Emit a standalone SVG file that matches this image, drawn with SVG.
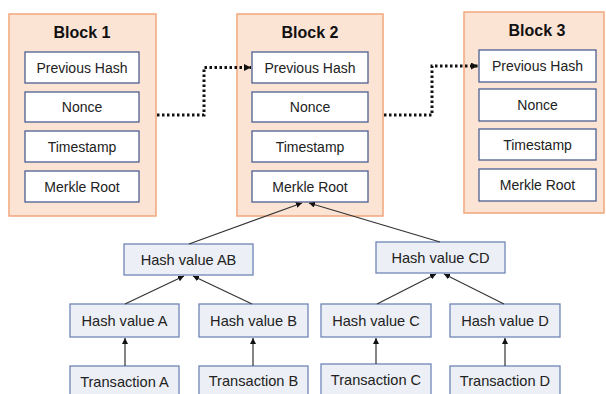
<svg xmlns="http://www.w3.org/2000/svg" width="606" height="394" viewBox="0 0 606 394">
<defs>
<style>
.blk{fill:#fce4d5;stroke:#f2a67c;stroke-width:1.5}
.fld{fill:#ffffff;stroke:#4c5f93;stroke-width:1.3}
.hb{fill:#eceff5;stroke:#6f86b6;stroke-width:1.3}
.t{font-family:"Liberation Sans",Arial,sans-serif;font-size:14px;fill:#222;text-anchor:middle}
.tl{font-family:"Liberation Sans",Arial,sans-serif;font-size:14.6px;fill:#222;text-anchor:middle}
.title{font-family:"Liberation Sans",Arial,sans-serif;font-size:16px;font-weight:bold;fill:#111;text-anchor:middle}
.dot{fill:none;stroke:#111;stroke-width:3;stroke-dasharray:2.5 2.5}
.ln{fill:none;stroke:#333;stroke-width:1.2}
</style>
<marker id="ad" viewBox="0 0 10 10" refX="10" refY="5" markerWidth="7" markerHeight="7" markerUnits="userSpaceOnUse" orient="auto"><path d="M0,0 L10,5 L0,10 z" fill="#111"/></marker>
<marker id="as" viewBox="0 0 10 10" refX="10" refY="5" markerWidth="6" markerHeight="6" markerUnits="userSpaceOnUse" orient="auto"><path d="M0,0 L10,5 L0,10 z" fill="#111"/></marker>
</defs>
<rect width="606" height="394" fill="#ffffff"/>

<g id="block1">
<rect class="blk" x="9" y="14" width="147" height="202"/>
<text class="title" x="82" y="38">Block 1</text>
<rect class="fld" x="25" y="52" width="114" height="31"/><text class="t" x="82" y="72.5">Previous Hash</text>
<rect class="fld" x="25" y="92" width="114" height="30"/><text class="t" x="82" y="112">Nonce</text>
<rect class="fld" x="25" y="131" width="114" height="31"/><text class="t" x="82" y="151.5">Timestamp</text>
<rect class="fld" x="25" y="171" width="114" height="31"/><text class="t" x="82" y="191.5">Merkle Root</text>
</g>

<g id="block2">
<rect class="blk" x="237" y="14" width="146" height="202"/>
<text class="title" x="310" y="38">Block 2</text>
<rect class="fld" x="252" y="52" width="116" height="31"/><text class="t" x="310" y="72.5">Previous Hash</text>
<rect class="fld" x="252" y="92" width="116" height="30"/><text class="t" x="310" y="112">Nonce</text>
<rect class="fld" x="252" y="131" width="116" height="31"/><text class="t" x="310" y="151.5">Timestamp</text>
<rect class="fld" x="252" y="171" width="116" height="31"/><text class="t" x="310" y="191.5">Merkle Root</text>
</g>

<g id="block3">
<rect class="blk" x="464" y="12" width="140" height="201"/>
<text class="title" x="537" y="36">Block 3</text>
<rect class="fld" x="479" y="50" width="117" height="32"/><text class="t" x="537.5" y="71">Previous Hash</text>
<rect class="fld" x="479" y="89" width="117" height="32"/><text class="t" x="537.5" y="110">Nonce</text>
<rect class="fld" x="479" y="129" width="117" height="31"/><text class="t" x="537.5" y="149.5">Timestamp</text>
<rect class="fld" x="479" y="169" width="117" height="32"/><text class="t" x="537.5" y="190">Merkle Root</text>
</g>

<g id="hashAB"><rect class="hb" x="124" y="244" width="129" height="31"/><text class="tl" x="188.5" y="264.5">Hash value AB</text></g>
<g id="hashCD"><rect class="hb" x="376" y="242" width="129" height="31"/><text class="tl" x="440.5" y="262.5">Hash value CD</text></g>
<g id="hashA"><rect class="hb" x="70" y="304" width="109" height="33"/><text class="tl" x="124.5" y="325.5">Hash value A</text></g>
<g id="hashB"><rect class="hb" x="199" y="304" width="109" height="33"/><text class="tl" x="253.5" y="325.5">Hash value B</text></g>
<g id="hashC"><rect class="hb" x="321" y="304" width="110" height="33"/><text class="tl" x="376" y="325.5">Hash value C</text></g>
<g id="hashD"><rect class="hb" x="450" y="304" width="110" height="33"/><text class="tl" x="505" y="325.5">Hash value D</text></g>
<g id="txA"><rect class="hb" x="70" y="366" width="109" height="40"/><text class="tl" x="124.5" y="387">Transaction A</text></g>
<g id="txB"><rect class="hb" x="199" y="366" width="109" height="40"/><text class="tl" x="253.5" y="386">Transaction B</text></g>
<g id="txC"><rect class="hb" x="321" y="364" width="110" height="40"/><text class="tl" x="376" y="385">Transaction C</text></g>
<g id="txD"><rect class="hb" x="450" y="366" width="110" height="40"/><text class="tl" x="505" y="386">Transaction D</text></g>

<g id="connectors">
<path class="dot" d="M157,115 H204 V67.5 H251" marker-end="url(#ad)"/>
<path class="dot" d="M384,115 H432 V66 H478" marker-end="url(#ad)"/>
<path class="ln" d="M189,244 L302,203" marker-end="url(#as)"/>
<path class="ln" d="M440,242 L309,203" marker-end="url(#as)"/>
<path class="ln" d="M125,304 L184,276" marker-end="url(#as)"/>
<path class="ln" d="M252,304 L193,276" marker-end="url(#as)"/>
<path class="ln" d="M377,304 L436,274" marker-end="url(#as)"/>
<path class="ln" d="M504,304 L444,274" marker-end="url(#as)"/>
<path class="ln" d="M125,366 V338" marker-end="url(#as)"/>
<path class="ln" d="M253,366 V338" marker-end="url(#as)"/>
<path class="ln" d="M376,364 V338" marker-end="url(#as)"/>
<path class="ln" d="M505,366 V338" marker-end="url(#as)"/>
</g>
</svg>
